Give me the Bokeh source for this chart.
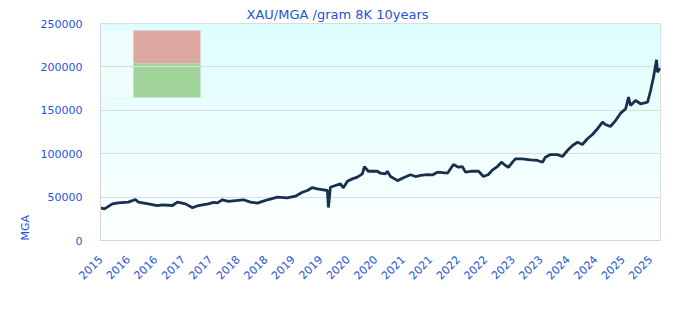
from math import pi
import pandas as pd
from bokeh.plotting import figure
from bokeh.models import (Range1d, FixedTicker, DatetimeTickFormatter, BasicTickFormatter,
                          BoxAnnotation, Title, ColumnDataSource)
from bokeh.embed import file_html
from bokeh.resources import INLINE

TITLE = "XAU/MGA /gram 8K 10years"
Y_LABEL = "MGA"

dates = [
    "2015-10-27", "2015-11-22", "2016-01-13", "2016-02-21", "2016-04-27", "2016-06-12",
    "2016-07-02", "2016-09-05", "2016-11-03", "2016-12-06", "2017-02-11", "2017-03-15",
    "2017-05-07", "2017-06-22", "2017-07-31", "2017-10-05", "2017-11-07", "2017-12-03",
    "2018-01-05", "2018-02-13", "2018-03-31", "2018-05-23", "2018-07-08", "2018-08-23",
    "2018-09-25", "2018-11-03", "2019-01-01", "2019-03-07", "2019-04-29", "2019-06-14",
    "2019-07-17", "2019-08-19", "2019-09-20", "2019-10-30", "2019-11-25", "2019-12-02",
    "2019-12-15", "2020-01-17", "2020-02-19", "2020-03-09", "2020-04-05", "2020-05-07",
    "2020-06-09", "2020-07-12", "2020-07-25", "2020-08-20", "2020-10-18", "2020-11-07",
    "2020-12-10", "2020-12-23", "2021-01-13", "2021-02-28", "2021-04-08", "2021-05-24",
    "2021-06-26", "2021-07-29", "2021-09-13", "2021-10-15", "2021-11-17", "2022-01-22",
    "2022-03-02", "2022-04-04", "2022-04-30", "2022-05-20", "2022-07-05", "2022-08-14",
    "2022-09-15", "2022-10-18", "2022-11-14", "2022-12-16", "2023-01-11", "2023-02-07",
    "2023-02-26", "2023-03-25", "2023-04-13", "2023-05-29", "2023-07-21", "2023-09-05",
    "2023-10-08", "2023-10-27", "2023-11-29", "2024-01-14", "2024-02-16", "2024-03-20",
    "2024-04-22", "2024-05-25", "2024-06-26", "2024-07-29", "2024-08-31", "2024-10-03",
    "2024-11-05", "2024-11-24", "2024-12-27", "2025-01-30", "2025-03-04", "2025-04-06",
    "2025-04-25", "2025-05-08", "2025-06-10", "2025-07-13", "2025-08-28", "2025-09-17",
    "2025-10-06", "2025-10-26", "2025-11-01", "2025-11-15", "2025-11-21",
]
values = [
    37700, 36500, 42200, 43400, 44200, 47200,
    44200, 42200, 40300, 41000, 40300, 44200,
    42200, 37700, 40300, 42200, 44000, 43400,
    46900, 45000, 46000, 46900, 44200, 43000,
    45000, 47200, 50000, 49200, 51000, 55600,
    57600, 61000, 59500, 58400, 57600, 38000,
    61400, 63400, 65300, 60700, 68300, 71000,
    73000, 76800, 85200, 79800, 79800, 77500,
    76800, 79800, 73700, 69000, 72200, 75700,
    73700, 74900, 76000, 75500, 78700, 77500,
    87500, 84400, 85200, 78700, 79800, 79800,
    73700, 76000, 81400, 85200, 90200, 86400,
    84400, 90200, 94100, 94100, 93000, 92200,
    90200, 96000, 99000, 99000, 96800, 103700,
    109400, 113200, 110600, 117200, 122100, 128700,
    136300, 133600, 131300, 138200, 146700, 151700,
    165100, 155500, 161300, 157500, 159300, 172800,
    188100, 208200, 193900, 197800, 196000,
]

tick_dates = [
    "2015-10-27", "2016-04-25", "2016-10-22", "2017-04-22", "2017-10-18", "2018-04-17",
    "2018-10-15", "2019-04-13", "2019-10-11", "2020-04-08", "2020-10-06", "2021-04-05",
    "2021-10-02", "2022-04-01", "2022-09-28", "2023-03-28", "2023-09-25", "2024-03-23",
    "2024-09-20", "2025-03-19", "2025-09-15",
]
y_ticks = [0, 50000, 100000, 150000, 200000, 250000]
x_start, x_end = "2015-10-27", "2025-11-21"
y_start, y_end = 0, 250000

BLUE = "#1f55d6"
FONT = "DejaVu Sans"
GRID = "#dcdcdc"

src = ColumnDataSource(dict(date=pd.to_datetime(dates), value=values))

p = figure(width=680, height=320, x_axis_type="datetime",
           x_range=Range1d(pd.Timestamp(x_start), pd.Timestamp(x_end)),
           y_range=Range1d(y_start, y_end),
           output_backend="svg", toolbar_location=None,
           min_border_left=100, min_border_right=20, min_border_top=23, min_border_bottom=80)

p.background_fill_color = "white"
p.border_fill_color = "white"
p.outline_line_color = "#d6d6d6"

# vertical gradient background (light cyan at top -> white at bottom)
n_bands = 50
top_c = (220, 254, 254)
bot_c = (252, 255, 255)
for i in range(n_bands):
    f = (i + 0.5) / n_bands
    c = tuple(int(round(bot_c[k] + (top_c[k] - bot_c[k]) * f)) for k in range(3))
    b0 = y_start + (y_end - y_start) * i / n_bands
    b1 = y_start + (y_end - y_start) * (i + 1) / n_bands
    p.add_layout(BoxAnnotation(bottom=b0, top=b1, fill_color="#%02x%02x%02x" % c,
                               fill_alpha=1, line_color=None, level="image"))

# legend-like key box in the upper-left corner
key_boxes = [
    dict(left=0, right=33, top=210, bottom=143, fill_color="#effdfd", line_color="#e1eeee"),
    dict(left=33, right=100, top=210, bottom=177, fill_color="#dea8a0", line_color=None),
    dict(left=33, right=100, top=177, bottom=143, fill_color="#a0d49b", line_color=None),
]
for kb in key_boxes:
    p.add_layout(BoxAnnotation(left=kb["left"], right=kb["right"], top=kb["top"], bottom=kb["bottom"],
                               left_units="screen", right_units="screen",
                               top_units="screen", bottom_units="screen",
                               fill_color=kb["fill_color"], fill_alpha=1,
                               line_color=kb["line_color"], line_width=1, level="image"))

p.line("date", "value", source=src, line_color="#18304f", line_width=2.8)

# title
p.title.text = TITLE
p.title.text_font = FONT
p.title.text_font_size = "13px"
p.title.text_font_style = "normal"
p.title.text_color = BLUE
p.title.align = "left"
p.title.offset = 146
p.title.standoff = 4

# axes
xa = p.xaxis[0]
xa.ticker = FixedTicker(ticks=[pd.Timestamp(d).value / 1e6 for d in tick_dates])
xa.formatter = DatetimeTickFormatter(years="%Y", months="%Y", days="%Y", hours="%Y")
xa.major_label_orientation = pi / 4
ya = p.yaxis[0]
ya.ticker = FixedTicker(ticks=y_ticks)
ya.formatter = BasicTickFormatter(use_scientific=False)
ya.major_label_standoff = 12
for ax in (xa, ya):
    ax.axis_line_color = "#d6d6d6"
    ax.major_tick_line_color = None
    ax.minor_tick_line_color = None
    ax.major_label_text_color = BLUE
    ax.major_label_text_font = FONT
    ax.major_label_text_font_size = "11px"
xa.major_label_standoff = 11

p.xgrid.grid_line_color = None
p.ygrid.grid_line_color = GRID
p.ygrid.grid_line_width = 1

p.add_layout(Title(text=Y_LABEL, align="left", text_font=FONT, text_font_size="11px",
                   text_font_style="normal", text_color=BLUE, standoff=12), "left")

open("out.html", "w").write(file_html(p, INLINE))
